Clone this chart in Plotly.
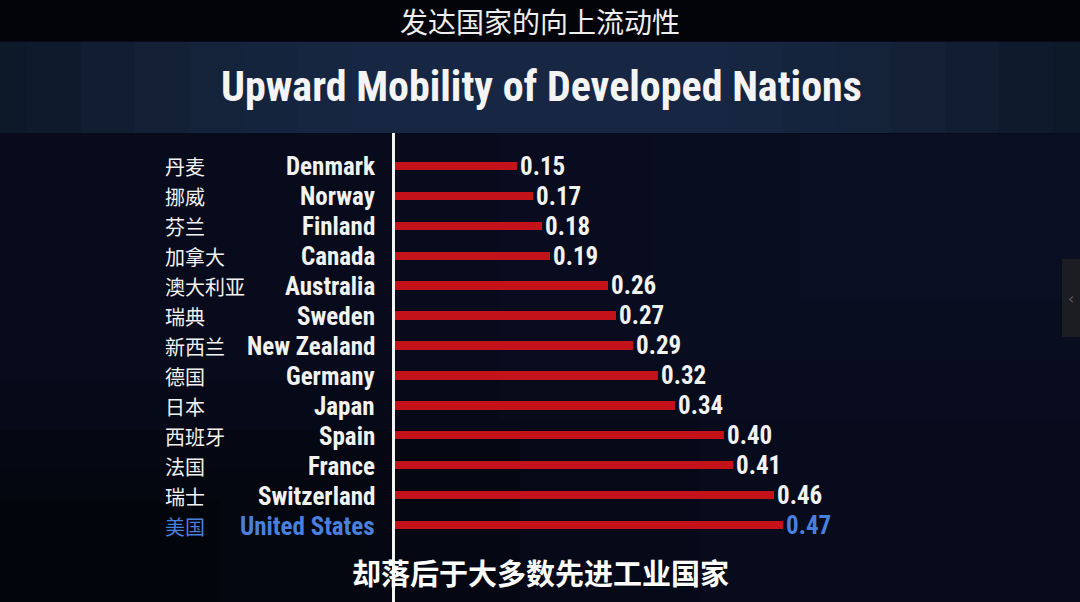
import plotly.graph_objects as go

# ---- data ----
countries_en = ["Denmark", "Norway", "Finland", "Canada", "Australia", "Sweden",
                "New Zealand", "Germany", "Japan", "Spain", "France", "Switzerland",
                "United States"]
countries_zh = ["丹麦", "挪威", "芬兰", "加拿大", "澳大利亚", "瑞典",
                "新西兰", "德国", "日本", "西班牙", "法国", "瑞士", "美国"]
values = [0.15, 0.17, 0.18, 0.19, 0.26, 0.27, 0.29, 0.32, 0.34, 0.40, 0.41, 0.46, 0.47]
highlight = "United States"

title_en = "Upward Mobility of Developed Nations"
caption_top = "发达国家的向上流动性"
caption_bottom = "却落后于大多数先进工业国家"

# ---- styles ----
W, H = 1080, 602
ML, MR, MT, MB = 392, 80, 151, 62
PX_PER_UNIT = 831
BAR_RED = "#c4121b"
BLUE = "#4a7fdc"
WHITE = "#f2f2f2"
BG = "#070b1b"
COND = "Roboto Condensed, Liberation Sans Narrow, Lato, sans-serif"
CJK = "Noto Sans CJK SC, sans-serif"

label_colors = [BLUE if c == highlight else WHITE for c in countries_en]

fig = go.Figure()
fig.add_trace(go.Bar(
    x=values, y=countries_en, orientation="h",
    width=0.28,
    marker=dict(color=BAR_RED, line=dict(width=0)),
    text=[f"{v:.2f}" for v in values],
    textposition="outside",
    constraintext="none",
    cliponaxis=False,
    textfont=dict(family=COND, size=25, color=label_colors, weight="bold"),
    hoverinfo="skip",
))

plot_w = W - ML - MR
ph = H - MT - MB


def py(pix):
    """pixel row from top -> paper y"""
    return 1 + (MT - pix) / ph


def px(pix):
    """pixel column from left -> paper x"""
    return (pix - ML) / plot_w


fig.update_layout(
    width=W, height=H,
    margin=dict(l=ML, r=MR, t=MT, b=MB, pad=0),
    paper_bgcolor=BG,
    plot_bgcolor="rgba(0,0,0,0)",
    showlegend=False,
    bargap=0,
    xaxis=dict(range=[0, plot_w / PX_PER_UNIT], visible=False, fixedrange=True),
    yaxis=dict(categoryorder="array", categoryarray=countries_en,
               range=[len(countries_en) - 0.5, -0.5], visible=False, fixedrange=True),
)

shapes = []
# darker lower-left vignette
for (x1, y0) in [(700, 380), (520, 430), (360, 470), (220, 500)]:
    shapes.append(dict(type="rect", xref="paper", yref="paper", layer="below",
                       x0=px(-5), x1=px(x1), y0=py(y0), y1=py(H + 5),
                       fillcolor="rgba(0,0,0,0.14)", line=dict(width=0)))
# subtle lighter upper-right
for (x0, y1) in [(500, 420), (650, 360), (800, 300)]:
    shapes.append(dict(type="rect", xref="paper", yref="paper", layer="below",
                       x0=px(x0), x1=px(W + 5), y0=py(134), y1=py(y1),
                       fillcolor="rgba(20,30,55,0.10)", line=dict(width=0)))
# top black band
shapes.append(dict(type="rect", xref="paper", yref="paper", layer="below",
                   x0=px(-5), x1=px(W + 5), y0=py(-5), y1=py(41),
                   fillcolor="#03040a", line=dict(width=0)))
# title band with soft central glow
band_top, band_bot = 42, 133
shapes.append(dict(type="rect", xref="paper", yref="paper", layer="below",
                   x0=px(-5), x1=px(W + 5), y0=py(band_top), y1=py(band_bot),
                   fillcolor="#0d1828", line=dict(width=0)))
for frac in [0.95, 0.85, 0.75, 0.65, 0.55, 0.45, 0.35]:
    half = W * frac / 2
    shapes.append(dict(type="rect", xref="paper", yref="paper", layer="below",
                       x0=px(W / 2 - half), x1=px(W / 2 + half),
                       y0=py(band_top), y1=py(band_bot),
                       fillcolor="rgba(36,58,88,0.11)", line=dict(width=0)))
# white vertical axis line
shapes.append(dict(type="line", xref="x", yref="paper", layer="above",
                   x0=0, x1=0, y0=py(133), y1=py(H + 5),
                   line=dict(color="#f4f4f4", width=6)))
# right side tab
shapes.append(dict(type="rect", xref="paper", yref="paper", layer="below",
                   x0=px(1062), x1=px(W + 5), y0=py(259), y1=py(337),
                   fillcolor="#1c1d22", line=dict(width=0)))
fig.update_layout(shapes=shapes)

ann = []
for en, zh, c in zip(countries_en, countries_zh, label_colors):
    ann.append(dict(text=en, x=0, y=en, xref="paper", yref="y", xanchor="right",
                    yanchor="middle", xshift=-15, yshift=-1, showarrow=False,
                    font=dict(family=COND, size=25, color=c, weight="bold")))
    ann.append(dict(text=zh, x=0, y=en, xref="paper", yref="y", xanchor="left",
                    yanchor="middle", xshift=163 - ML, yshift=-1, showarrow=False,
                    font=dict(family=CJK, size=20, color=c, weight="normal")))
# title
ann.append(dict(text=title_en, x=px(541), y=py(87), xref="paper", yref="paper",
                xanchor="center", yanchor="middle", showarrow=False,
                font=dict(family=COND, size=42, color="#f4f4f4", weight="bold")))
# top caption
ann.append(dict(text=caption_top, x=px(540), y=py(21), xref="paper", yref="paper",
                xanchor="center", yanchor="middle", showarrow=False,
                font=dict(family=CJK, size=28, color="#eeeeee", weight="normal")))
# bottom caption
ann.append(dict(text=caption_bottom, x=px(540), y=py(572), xref="paper", yref="paper",
                xanchor="center", yanchor="middle", showarrow=False,
                font=dict(family=CJK, size=29, color="#ffffff", weight="bold")))
# tab glyph
ann.append(dict(text="‹", x=px(1071), y=py(298), xref="paper", yref="paper",
                xanchor="center", yanchor="middle", showarrow=False,
                font=dict(family="DejaVu Sans", size=16, color="#55565e")))
fig.update_layout(annotations=ann)

fig.write_html("out.html",
               config={"displayModeBar": False},
               post_script="document.body.style.margin='0';"
                           "document.body.style.overflow='hidden';"
                           "document.body.style.background='" + BG + "';")
